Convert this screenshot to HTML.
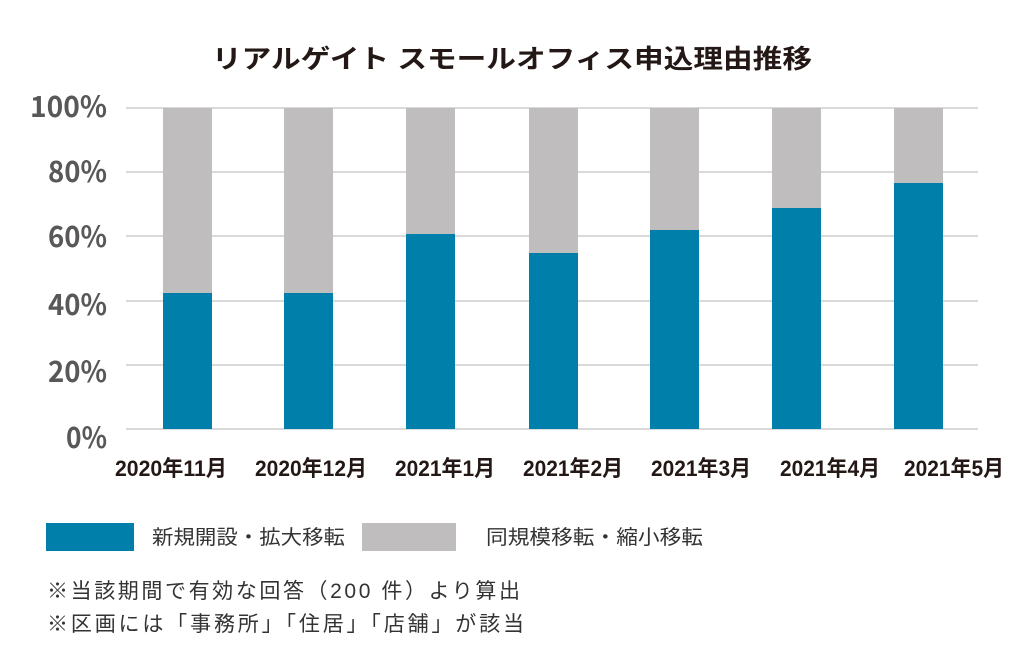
<!DOCTYPE html>
<html>
<head>
<meta charset="utf-8">
<style>
html,body{margin:0;padding:0;background:#fff;}
svg{display:block;}
</style>
</head>
<body>
<svg width="1024" height="669" viewBox="0 0 1024 669" xmlns="http://www.w3.org/2000/svg">
<rect x="0" y="0" width="1024" height="669" fill="#ffffff"/>
<!-- Title -->
<text x="212" y="68" font-family="'Liberation Sans','Noto Sans CJK JP',sans-serif" font-weight="bold" font-size="26" fill="#231815" textLength="600" lengthAdjust="spacingAndGlyphs">リアルゲイト スモールオフィス申込理由推移</text>

<!-- Gridlines -->
<g stroke="#d9d9d9" stroke-width="2">
<line x1="126" y1="108" x2="978" y2="108"/>
<line x1="126" y1="172" x2="978" y2="172"/>
<line x1="126" y1="236" x2="978" y2="236"/>
<line x1="126" y1="301" x2="978" y2="301"/>
<line x1="126" y1="365" x2="978" y2="365"/>
<line x1="126" y1="429" x2="978" y2="429"/>
</g>

<!-- Y labels -->
<g font-family="'Noto Sans CJK JP','Liberation Sans',sans-serif" font-weight="bold" font-size="29" fill="#595757">
<text x="30" y="117" textLength="77" lengthAdjust="spacingAndGlyphs">100%</text>
<text x="48" y="182" textLength="59" lengthAdjust="spacingAndGlyphs">80%</text>
<text x="48" y="247" textLength="59" lengthAdjust="spacingAndGlyphs">60%</text>
<text x="48" y="315" textLength="59" lengthAdjust="spacingAndGlyphs">40%</text>
<text x="48" y="382" textLength="59" lengthAdjust="spacingAndGlyphs">20%</text>
<text x="66" y="448" textLength="41" lengthAdjust="spacingAndGlyphs">0%</text>
</g>

<!-- Bars: gray -->
<g fill="#bfbdbe">
<rect x="163" y="108" width="49" height="185"/>
<rect x="284" y="108" width="49" height="185"/>
<rect x="406" y="108" width="49" height="126"/>
<rect x="529" y="108" width="49" height="145"/>
<rect x="650" y="108" width="49" height="122"/>
<rect x="772" y="108" width="49" height="100"/>
<rect x="894" y="108" width="49" height="75"/>
</g>
<!-- Bars: blue -->
<g fill="#007fab">
<rect x="163" y="293" width="49" height="136"/>
<rect x="284" y="293" width="49" height="136"/>
<rect x="406" y="234" width="49" height="195"/>
<rect x="529" y="253" width="49" height="176"/>
<rect x="650" y="230" width="49" height="199"/>
<rect x="772" y="208" width="49" height="221"/>
<rect x="894" y="183" width="49" height="246"/>
</g>

<!-- X labels -->
<g font-family="'Liberation Sans','Noto Sans CJK JP',sans-serif" font-weight="bold" font-size="22" fill="#231815">
<text x="115" y="476" textLength="112" lengthAdjust="spacingAndGlyphs">2020年11月</text>
<text x="255" y="476" textLength="112" lengthAdjust="spacingAndGlyphs">2020年12月</text>
<text x="395" y="476" textLength="100" lengthAdjust="spacingAndGlyphs">2021年1月</text>
<text x="523" y="476" textLength="100" lengthAdjust="spacingAndGlyphs">2021年2月</text>
<text x="651" y="476" textLength="100" lengthAdjust="spacingAndGlyphs">2021年3月</text>
<text x="780" y="476" textLength="100" lengthAdjust="spacingAndGlyphs">2021年4月</text>
<text x="904" y="476" textLength="100" lengthAdjust="spacingAndGlyphs">2021年5月</text>
</g>

<!-- Legend -->
<rect x="46" y="523" width="88" height="28" fill="#007fab"/>
<rect x="362" y="523" width="94" height="28" fill="#bfbdbe"/>
<g font-family="'Liberation Sans','Noto Sans CJK JP',sans-serif" font-size="20" fill="#333333">
<text x="152" y="544" textLength="193" lengthAdjust="spacingAndGlyphs">新規開設・拡大移転</text>
<text x="486" y="544" textLength="217" lengthAdjust="spacingAndGlyphs">同規模移転・縮小移転</text>
</g>

<!-- Notes -->
<g font-family="'Liberation Sans','Noto Sans CJK JP',sans-serif" font-size="21" fill="#333333">
<text x="47" y="598" textLength="473" lengthAdjust="spacing">※当該期間で有効な回答（200 件）より算出</text>
<text x="47" y="631" textLength="477" lengthAdjust="spacing">※区画には「事務所」「住居」「店舗」が該当</text>
</g>
</svg>
</body>
</html>
